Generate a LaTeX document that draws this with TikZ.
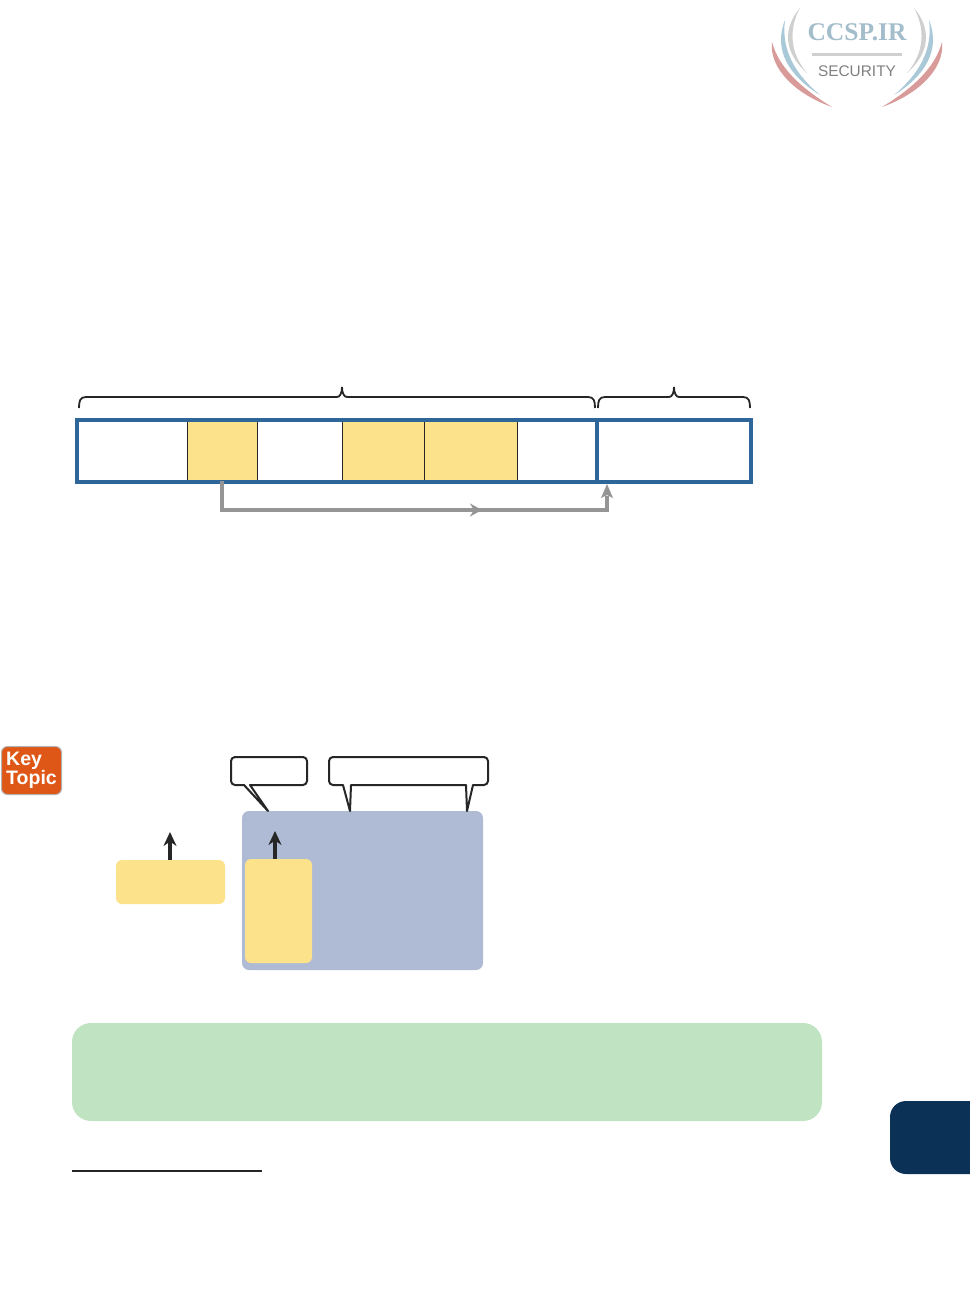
\documentclass[tikz,border=0pt]{standalone}
\usepackage{fontspec}
\setmainfont{Liberation Sans}
\newfontfamily\logoserif{Liberation Serif}
\usetikzlibrary{arrows.meta}
\definecolor{barblue}{HTML}{2F6699}
\definecolor{cellyellow}{HTML}{FCE28A}
\definecolor{panelblue}{HTML}{AFBBD4}
\definecolor{notegreen}{HTML}{C0E4C1}
\definecolor{tabnavy}{HTML}{0B3157}
\definecolor{pathgray}{HTML}{959595}
\definecolor{keyorange}{HTML}{DF5716}
\definecolor{logoblue}{HTML}{A9C8D8}
\definecolor{logored}{HTML}{D99A9A}
\definecolor{logogray}{HTML}{CFCFCF}
\tikzset{
	box/.style={anchor=north west,inner sep=0pt,outer sep=0pt},
	cellbox/.style={box,draw=black!85,line width=1pt,fill=cellyellow,minimum height=60pt},
	softbox/.style={box,fill=cellyellow,rounded corners=6pt},
	callout/.style={draw=black!85,line width=2pt,fill=white,line join=round},
	uparrow/.style={line width=4pt,black!85,-{Stealth[length=14pt,width=13pt]}},
	graypath/.style={line width=3.6pt,pathgray}
}
\begin{document}
\begin{tikzpicture}[x=1pt,y=-1pt]
	\useasboundingbox (0,0) rectangle (969,1314);

	% Logo
	\foreach \s in {1,-1} {
		\begin{scope}[shift={(857,0)},xscale=\s]
			\fill[logogray] (-57,8) .. controls (-74,28) and (-74,52) .. (-50,73) .. controls (-68,52) and (-68,28) .. cycle;
			\fill[logoblue] (-72,20) .. controls (-84,50) and (-68,76) .. (-37,95) .. controls (-62,74) and (-76,50) .. cycle;
			\fill[logored] (-85,42) .. controls (-88,68) and (-62,94) .. (-25,107) .. controls (-56,88) and (-78,68) .. cycle;
		\end{scope}
	}
	\node[text=logoblue!85!gray,font=\logoserif\bfseries\fontsize{25.5}{25.5}\selectfont] (logotitle) at (857,32) {CCSP.IR};
	\node[text=black!50,font=\fontsize{15.4}{15.4}\selectfont] (logosub) at (857,71) {SECURITY};
	\draw[line width=3pt,logogray] (812,55) -- (902,55);

	% Braces
	\foreach \a/\m/\b in {79/342/595,598/674/750} {
		\draw[line width=1.8pt,black!85] (\a,408) .. controls (\a,401) and ({\a+1},397) .. ({\a+7},397) -- ({\m-5},397)
			.. controls ({\m-2},397) and (\m,393) .. (\m,387) .. controls (\m,393) and ({\m+2},397) .. ({\m+5},397)
			-- ({\b-7},397) .. controls ({\b-1},397) and (\b,401) .. (\b,408);
	}

	% Cells
	\foreach \nm/\xa/\w in {cella/187/70,cellb/342/82,cellc/424/93} {
		\node[cellbox,minimum width=\w pt] (\nm) at (\xa,421) {};
	}
	\node[box,draw=black!85,line width=1pt,minimum width=85pt,minimum height=60pt] (cellw) at (257,421) {};
	\node[box,draw=barblue,line width=3.4pt,minimum width=520pt,minimum height=62pt] (leftbar) at (77,420) {};
	\node[box,draw=barblue,line width=3.4pt,minimum width=154pt,minimum height=62pt] (rightbar) at (597,420) {};

	% Gray path
	\coordinate (turn) at (607,510);
	\coordinate (tip) at (607,484);
	\coordinate (midA) at (412,510);
	\coordinate (midB) at (482,510);
	\draw[graypath,line join=miter] (cella.south) |- (turn) -- (607,496);
	\draw[graypath,line width=4.4pt,-{Stealth[length=12pt,width=13pt]}] (midA) -- (midB);
	\fill[pathgray] (tip) -- (613,498) -- (607,495) -- (601,498) -- cycle;

	% Key topic
	\node[box,fill=keyorange,draw=black!30,line width=1pt,rounded corners=6pt,minimum width=60pt,minimum height=48pt,
		text=white,align=left,font=\bfseries\fontsize{19.5}{17.5}\selectfont,inner sep=3pt] (keytopic) at (1.5,746.5) {Key\\[0pt]Topic};

	% Panel
	\node[box,fill=panelblue,rounded corners=7pt,minimum width=241pt,minimum height=159pt] (panel) at (242,811) {};
	\node[softbox,minimum width=67pt,minimum height=104pt] (inbox) at (245,859) {};
	\node[softbox,minimum width=109pt,minimum height=44pt] (outbox) at (116,860) {};
	\coordinate (outtip) at (170,832);
	\coordinate (intip) at (275,831);
	\draw[uparrow] (outtip |- outbox.north) -- (outtip);
	\draw[uparrow] (intip |- inbox.north) -- (intip);

	% Callouts
	\draw[callout] (268,811) -- (244,785) -- (235,785) [rounded corners=4pt] -- (231,785) -- (231,757) -- (307,757) -- (307,785) [sharp corners] -- (250,785) -- cycle;
	\draw[callout] (350,811) -- (343,785) [rounded corners=4pt] -- (329,785) -- (329,757) -- (488,757) -- (488,785) [sharp corners] -- (473,785) -- (467,811) -- (466,785) -- (351,785) -- cycle;

	% Note and tab
	\node[box,fill=notegreen,rounded corners=19pt,minimum width=750pt,minimum height=98pt] (note) at (72,1023) {};
	\draw[line width=1.5pt,black!85] (72,1171) -- (262,1171);
	\fill[tabnavy,rounded corners=16pt] (1000,1101) -- (890,1101) -- (890,1174) -- (1000,1174) -- cycle;
\end{tikzpicture}
\end{document}
